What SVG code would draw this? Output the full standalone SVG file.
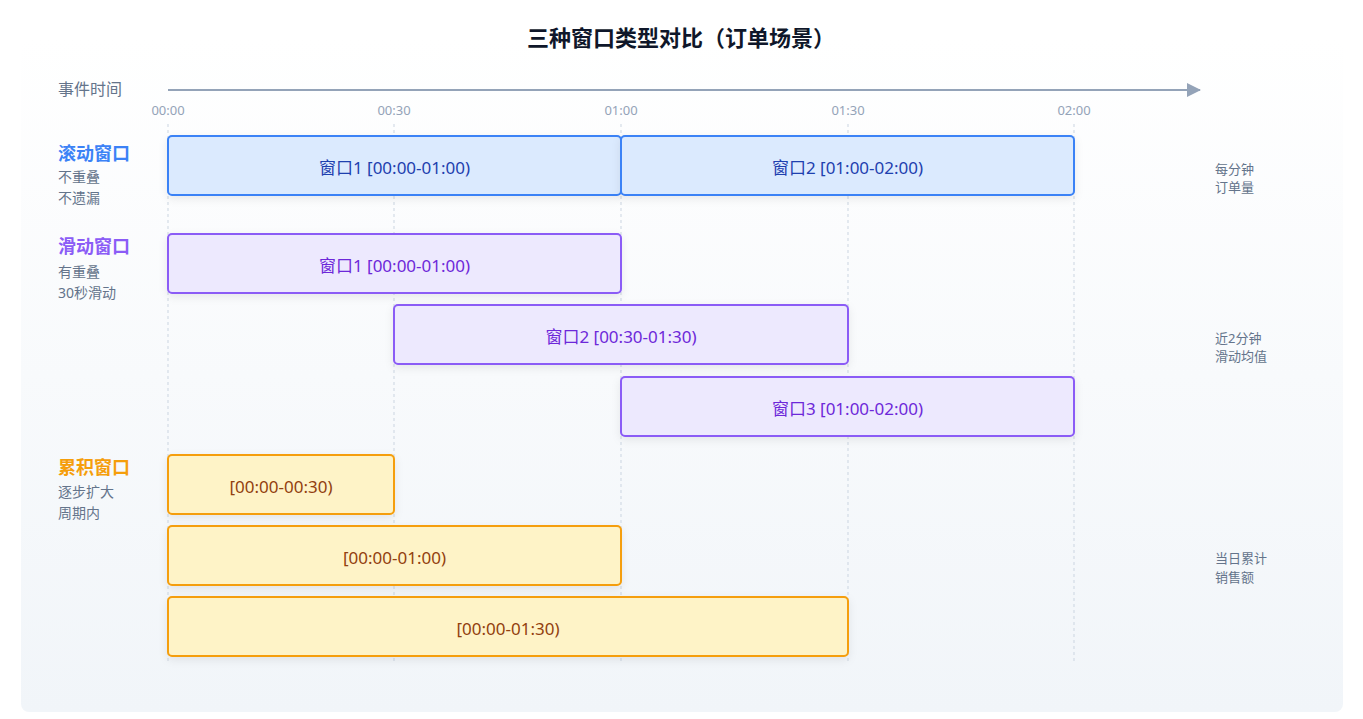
<svg xmlns="http://www.w3.org/2000/svg" width="1363" height="719" viewBox="0 0 1363 719">
<defs>
<linearGradient id="bg" x1="0" y1="0" x2="0" y2="1">
<stop offset="0" stop-color="#ffffff"/>
<stop offset="1" stop-color="#f1f5f9"/>
</linearGradient>
<filter id="sh" x="-10%" y="-30%" width="120%" height="170%">
<feDropShadow dx="0" dy="3" stdDeviation="4" flood-color="#0f172a" flood-opacity="0.08"/>
</filter>
<marker id="arr" markerWidth="14" markerHeight="14" refX="13" refY="7" orient="auto" markerUnits="userSpaceOnUse">
<path d="M0,0 L14,7 L0,14 Z" fill="#94a3b8"/>
</marker>
<style>
text{font-family:"Noto Sans","Noto Sans CJK SC",sans-serif;}
.title{font-size:22px;font-weight:bold;fill:#0f172a;}
.axl{font-size:16px;fill:#64748b;}
.tick{font-size:13px;fill:#94a3b8;text-anchor:middle;}
.grid{stroke:#cbd5e1;stroke-width:1;stroke-dasharray:3 3;}
.sub{font-size:14px;fill:#64748b;}
.note{font-size:13px;fill:#64748b;}
.hd{font-size:18px;font-weight:bold;}
.lbl{font-size:17px;text-anchor:middle;dominant-baseline:central;}
.tb rect{fill:#dbeafe;stroke:#3b82f6;stroke-width:2;}
.tb text{fill:#1e40af;}
.sl rect{fill:#ede9fe;stroke:#8b5cf6;stroke-width:2;}
.sl text{fill:#6d28d9;}
.cu rect{fill:#fef3c7;stroke:#f59e0b;stroke-width:2;}
.cu text{fill:#92400e;}
</style>
</defs>
<rect x="21" y="39" width="1322" height="673" rx="8" fill="url(#bg)"/>
<text class="title" x="681" y="46" text-anchor="middle">三种窗口类型对比（订单场景）</text>

<g id="axis">
<text class="axl" x="58" y="95">事件时间</text>
<line x1="168" y1="90" x2="1200" y2="90" stroke="#94a3b8" stroke-width="2" marker-end="url(#arr)"/>
<text class="tick" x="168" y="115">00:00</text>
<text class="tick" x="394" y="115">00:30</text>
<text class="tick" x="621" y="115">01:00</text>
<text class="tick" x="848" y="115">01:30</text>
<text class="tick" x="1074" y="115">02:00</text>
</g>
<g id="grid">
<line class="grid" x1="168" y1="124" x2="168" y2="662"/>
<line class="grid" x1="394" y1="124" x2="394" y2="662"/>
<line class="grid" x1="621" y1="124" x2="621" y2="662"/>
<line class="grid" x1="848" y1="124" x2="848" y2="662"/>
<line class="grid" x1="1074" y1="124" x2="1074" y2="662"/>
</g>

<g id="labels">
<text class="hd" x="58" y="160" fill="#3b82f6">滚动窗口</text>
<text class="sub" x="58" y="182">不重叠</text>
<text class="sub" x="58" y="203">不遗漏</text>
<text class="hd" x="58" y="253" fill="#8b5cf6">滑动窗口</text>
<text class="sub" x="58" y="277">有重叠</text>
<text class="sub" x="58" y="298">30秒滑动</text>
<text class="hd" x="58" y="474" fill="#f59e0b">累积窗口</text>
<text class="sub" x="58" y="497">逐步扩大</text>
<text class="sub" x="58" y="518">周期内</text>
<text class="note" x="1215" y="174">每分钟</text>
<text class="note" x="1215" y="192">订单量</text>
<text class="note" x="1215" y="343">近2分钟</text>
<text class="note" x="1215" y="361">滑动均值</text>
<text class="note" x="1215" y="563">当日累计</text>
<text class="note" x="1215" y="582">销售额</text>
</g>

<g id="tumble1" class="tb"><rect x="168" y="136" width="453" height="59" rx="4" filter="url(#sh)"/><text class="lbl" x="394.5" y="167">窗口1 [00:00-01:00)</text></g>
<g id="tumble2" class="tb"><rect x="621" y="136" width="453" height="59" rx="4" filter="url(#sh)"/><text class="lbl" x="847.5" y="167">窗口2 [01:00-02:00)</text></g>

<g id="slide1" class="sl"><rect x="168" y="234" width="453" height="59" rx="4" filter="url(#sh)"/><text class="lbl" x="394.5" y="265">窗口1 [00:00-01:00)</text></g>
<g id="slide2" class="sl"><rect x="394" y="305" width="454" height="59" rx="4" filter="url(#sh)"/><text class="lbl" x="621" y="336">窗口2 [00:30-01:30)</text></g>
<g id="slide3" class="sl"><rect x="621" y="377" width="453" height="59" rx="4" filter="url(#sh)"/><text class="lbl" x="847.5" y="408">窗口3 [01:00-02:00)</text></g>

<g id="cum1" class="cu"><rect x="168" y="455" width="226" height="59" rx="4" filter="url(#sh)"/><text class="lbl" x="281" y="486">[00:00-00:30)</text></g>
<g id="cum2" class="cu"><rect x="168" y="526" width="453" height="59" rx="4" filter="url(#sh)"/><text class="lbl" x="394.5" y="557">[00:00-01:00)</text></g>
<g id="cum3" class="cu"><rect x="168" y="597" width="680" height="59" rx="4" filter="url(#sh)"/><text class="lbl" x="508" y="628">[00:00-01:30)</text></g>
</svg>
